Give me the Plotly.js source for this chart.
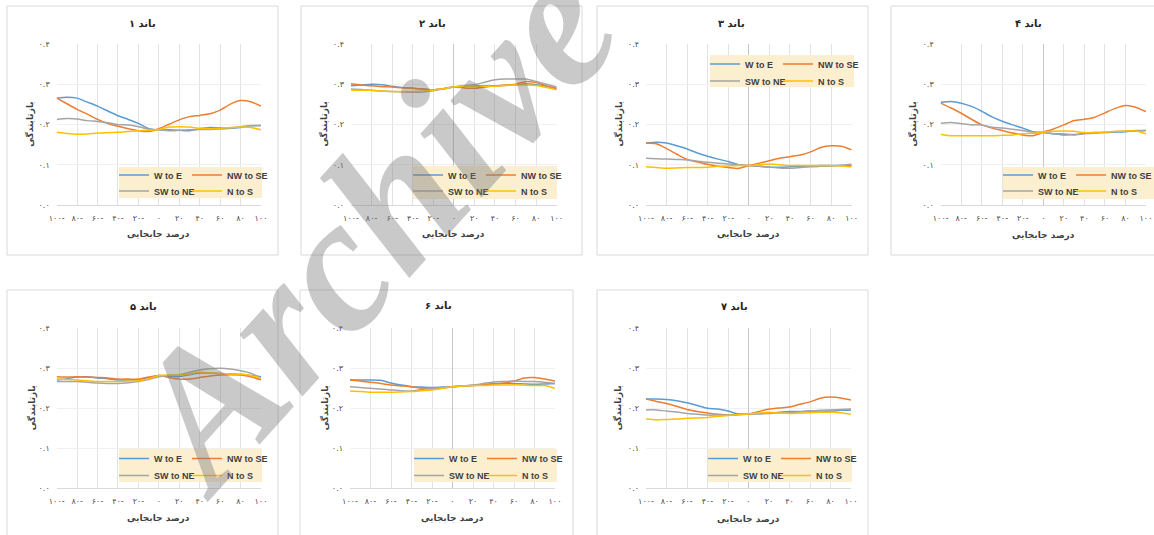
<!DOCTYPE html>
<html><head><meta charset="utf-8">
<script src="https://cdn.plot.ly/plotly-3.0.1.min.js"></script>
<style>html,body{margin:0;padding:0;background:#fff}</style>
</head><body><div id="chart" style="width:1154px;height:535px"></div>
<script>
// ---------- data ----------
const xPercent = [-100,-90,-80,-70,-60,-50,-40,-30,-20,-10,0,10,20,30,40,50,60,70,80,90,100];
const seriesNames = ["W to E","NW to SE","SW to NE","N to S"];
const seriesColors = ["#5B9BD5","#ED7D31","#A5A5A5","#FFC000"];
const bandTitles = ["باند ۱","باند ۲","باند ۳","باند ۴","باند ۵","باند ۶","باند ۷"];
const xAxisTitle = "درصد جابجایی";
const yAxisTitle = "بازتابندگی";
const xTickVals = [-100,-80,-60,-40,-20,0,20,40,60,80,100];
const xTickText = ["۱۰۰-","۸۰-","۶۰-","۴۰-","۲۰-","۰","۲۰","۴۰","۶۰","۸۰","۱۰۰"];
const yTickVals = [0,0.1,0.2,0.3,0.4];
const yTickText = ["۰.۰","۰.۱","۰.۲","۰.۳","۰.۴"];

const band1_WtoE  = [0.266,0.268,0.266,0.256,0.246,0.234,0.222,0.213,0.203,0.190,0.187,0.187,0.186,0.185,0.190,0.193,0.192,0.191,0.193,0.197,0.198];
const band1_NWtoSE= [0.266,0.252,0.238,0.226,0.213,0.203,0.196,0.190,0.185,0.183,0.190,0.201,0.212,0.220,0.223,0.227,0.236,0.251,0.260,0.257,0.246];
const band1_SWtoNE= [0.213,0.215,0.214,0.210,0.208,0.205,0.200,0.199,0.195,0.189,0.187,0.185,0.186,0.187,0.188,0.188,0.189,0.191,0.195,0.198,0.198];
const band1_NtoS  = [0.181,0.178,0.176,0.177,0.179,0.180,0.181,0.183,0.185,0.186,0.188,0.194,0.195,0.194,0.191,0.190,0.191,0.193,0.194,0.193,0.187];

const band2_WtoE  = [0.296,0.298,0.300,0.299,0.295,0.292,0.290,0.288,0.286,0.289,0.293,0.295,0.296,0.296,0.296,0.297,0.299,0.301,0.299,0.295,0.290];
const band2_NWtoSE= [0.301,0.298,0.296,0.294,0.293,0.291,0.290,0.288,0.286,0.289,0.293,0.291,0.290,0.293,0.296,0.298,0.300,0.307,0.304,0.296,0.288];
const band2_SWtoNE= [0.288,0.287,0.285,0.283,0.282,0.281,0.280,0.281,0.284,0.288,0.293,0.297,0.299,0.305,0.311,0.313,0.313,0.313,0.307,0.300,0.293];
const band2_NtoS  = [0.286,0.285,0.285,0.283,0.282,0.282,0.282,0.283,0.286,0.289,0.293,0.295,0.295,0.295,0.295,0.297,0.298,0.298,0.297,0.292,0.286];

const band3_WtoE  = [0.154,0.156,0.154,0.147,0.139,0.129,0.121,0.114,0.108,0.100,0.098,0.096,0.094,0.094,0.095,0.096,0.097,0.098,0.098,0.098,0.098];
const band3_NWtoSE= [0.154,0.152,0.140,0.126,0.113,0.107,0.101,0.096,0.093,0.091,0.098,0.104,0.110,0.116,0.120,0.124,0.132,0.143,0.147,0.146,0.137];
const band3_SWtoNE= [0.116,0.115,0.114,0.113,0.112,0.109,0.106,0.104,0.102,0.100,0.098,0.096,0.094,0.092,0.091,0.093,0.095,0.096,0.097,0.099,0.101];
const band3_NtoS  = [0.095,0.093,0.091,0.092,0.093,0.093,0.094,0.096,0.097,0.098,0.098,0.100,0.102,0.100,0.098,0.098,0.098,0.098,0.098,0.097,0.095];

const band4_WtoE  = [0.255,0.257,0.253,0.245,0.233,0.219,0.208,0.199,0.191,0.182,0.180,0.177,0.174,0.175,0.178,0.180,0.180,0.181,0.182,0.184,0.185];
const band4_NWtoSE= [0.253,0.241,0.228,0.213,0.199,0.191,0.185,0.179,0.174,0.172,0.181,0.189,0.199,0.210,0.213,0.218,0.229,0.240,0.247,0.243,0.232];
const band4_SWtoNE= [0.203,0.205,0.202,0.199,0.199,0.193,0.191,0.188,0.185,0.181,0.180,0.177,0.177,0.174,0.177,0.178,0.181,0.182,0.184,0.185,0.185];
const band4_NtoS  = [0.176,0.172,0.172,0.172,0.172,0.172,0.173,0.174,0.177,0.178,0.181,0.183,0.184,0.183,0.180,0.180,0.181,0.183,0.184,0.184,0.177];

const band5_WtoE  = [0.271,0.274,0.278,0.279,0.276,0.274,0.271,0.271,0.271,0.276,0.282,0.280,0.279,0.284,0.288,0.288,0.287,0.286,0.285,0.282,0.279];
const band5_NWtoSE= [0.279,0.278,0.279,0.278,0.277,0.276,0.273,0.273,0.273,0.278,0.282,0.277,0.273,0.273,0.277,0.281,0.283,0.284,0.283,0.279,0.271];
const band5_SWtoNE= [0.267,0.267,0.267,0.265,0.263,0.262,0.262,0.264,0.267,0.272,0.279,0.282,0.284,0.290,0.296,0.299,0.300,0.298,0.294,0.288,0.275];
const band5_NtoS  = [0.273,0.272,0.271,0.269,0.267,0.267,0.267,0.268,0.269,0.274,0.282,0.283,0.283,0.286,0.290,0.289,0.287,0.286,0.285,0.282,0.275];

const band6_WtoE  = [0.271,0.271,0.271,0.270,0.263,0.258,0.254,0.253,0.252,0.253,0.254,0.256,0.257,0.259,0.262,0.262,0.262,0.261,0.260,0.261,0.262];
const band6_NWtoSE= [0.271,0.268,0.265,0.262,0.258,0.256,0.254,0.250,0.248,0.250,0.254,0.256,0.257,0.259,0.260,0.263,0.268,0.276,0.277,0.273,0.268];
const band6_SWtoNE= [0.254,0.252,0.250,0.248,0.246,0.244,0.243,0.247,0.250,0.252,0.254,0.256,0.258,0.262,0.266,0.267,0.268,0.267,0.267,0.265,0.262];
const band6_NtoS  = [0.243,0.242,0.240,0.240,0.240,0.241,0.242,0.244,0.246,0.250,0.254,0.256,0.257,0.257,0.258,0.258,0.259,0.258,0.257,0.257,0.250];

const band7_WtoE  = [0.223,0.223,0.222,0.219,0.214,0.207,0.200,0.198,0.193,0.186,0.186,0.187,0.188,0.190,0.192,0.192,0.193,0.193,0.193,0.195,0.196];
const band7_NWtoSE= [0.223,0.217,0.212,0.205,0.197,0.192,0.188,0.185,0.183,0.184,0.186,0.192,0.198,0.201,0.203,0.210,0.216,0.225,0.228,0.226,0.221];
const band7_SWtoNE= [0.196,0.196,0.193,0.191,0.187,0.185,0.183,0.183,0.183,0.185,0.186,0.186,0.187,0.188,0.189,0.191,0.193,0.195,0.196,0.197,0.198];
const band7_NtoS  = [0.173,0.171,0.172,0.173,0.175,0.176,0.177,0.180,0.182,0.184,0.186,0.188,0.190,0.188,0.187,0.188,0.189,0.190,0.190,0.189,0.185];

const bands = [
  [band1_WtoE,band1_NWtoSE,band1_SWtoNE,band1_NtoS],
  [band2_WtoE,band2_NWtoSE,band2_SWtoNE,band2_NtoS],
  [band3_WtoE,band3_NWtoSE,band3_SWtoNE,band3_NtoS],
  [band4_WtoE,band4_NWtoSE,band4_SWtoNE,band4_NtoS],
  [band5_WtoE,band5_NWtoSE,band5_SWtoNE,band5_NtoS],
  [band6_WtoE,band6_NWtoSE,band6_SWtoNE,band6_NtoS],
  [band7_WtoE,band7_NWtoSE,band7_SWtoNE,band7_NtoS]
];

// ---------- layout geometry (pixels) ----------
const W = 1154, H = 535;
const px = v => v / W, py = v => 1 - v / H;
const panels = [
  {plot:[56.7,261,44.3,205],   box:[7,278,6,255],    title:[142,24],    ytitle:30,  xtitle:235, legend:[119,256,167,198], rows:[174,190], zeroDark:false},
  {plot:[351,556.7,44,205],    box:[301,582,6,255],  title:[432,24],    ytitle:323, xtitle:235, legend:[413,551,166,199], rows:[174,190], zeroDark:true},
  {plot:[646,851.7,44,205],    box:[597,868,6,255],  title:[731,24],    ytitle:618, xtitle:235, legend:[710,848,55,87],   rows:[63,80],   zeroDark:true},
  {plot:[940.7,1146,44,205],   box:[891,1170,6,255], title:[1028,24],   ytitle:912, xtitle:236, legend:[1003,1148,167,199],rows:[174,190],zeroDark:true},
  {plot:[56.7,261,328.3,488.3],box:[7,278,290,545],  title:[143,306.5], ytitle:32,  xtitle:518, legend:[119,256,449,482], rows:[457.5,474.5], zeroDark:false},
  {plot:[350,555,328.3,488.3], box:[300,573,290,545],title:[438,305.5], ytitle:325, xtitle:518, legend:[414,551,449,482], rows:[457.5,474.5], zeroDark:true},
  {plot:[646,851,328.3,488.3], box:[597,868,290,545],title:[734,306],   ytitle:618, xtitle:519, legend:[708,846,449,482], rows:[457.5,474.5], zeroDark:true}
];

const tickFont = {family:"DejaVu Sans", size:8, color:"#4a4a4a"};
const persianFont = {family:"DejaVu Sans", size:9, color:"#404040", weight:"bold"};
const legendFont = {family:"Liberation Sans", size:9, color:"#404040", weight:"bold"};

const data = [];
const layout = {
  width: W, height: H,
  margin: {l:0, r:0, t:0, b:0, autoexpand:false},
  paper_bgcolor: "#ffffff",
  plot_bgcolor: "#ffffff",
  showlegend: true,
  shapes: [], annotations: []
};

panels.forEach((p, i) => {
  const n = i + 1;
  const xa = "x" + (n === 1 ? "" : n), ya = "y" + (n === 1 ? "" : n);
  const xk = "xaxis" + (n === 1 ? "" : n), yk = "yaxis" + (n === 1 ? "" : n);
  layout[xk] = {
    domain: [px(p.plot[0]), px(p.plot[1])],
    anchor: ya, range: [-100, 100], fixedrange: true, automargin: false,
    tickvals: xTickVals, ticktext: xTickText, tickfont: tickFont, ticks: "",
    ticklabelstandoff: 5,
    showgrid: true, gridcolor: "#e3e3e3", gridwidth: 1,
    zeroline: p.zeroDark, zerolinecolor: "#c6c6c6", zerolinewidth: 1,
    showline: true, linecolor: "#d9d9d9", linewidth: 1, mirror: false
  };
  layout[yk] = {
    domain: [py(p.plot[3]), py(p.plot[2])],
    anchor: xa, range: [0, 0.4], fixedrange: true, automargin: false,
    tickvals: yTickVals, ticktext: yTickText, tickfont: tickFont, ticks: "",
    ticklabelstandoff: 6,
    showgrid: true, gridcolor: "#f0f0f0", zeroline: false, showline: false
  };
  // panel frame
  layout.shapes.push({type:"rect", xref:"paper", yref:"paper", layer:"below",
    x0:px(p.box[0]), x1:px(p.box[1]), y0:py(p.box[3]), y1:py(p.box[2]),
    line:{color:"#d9d9d9", width:1}, fillcolor:"rgba(0,0,0,0)"});
  // legend background
  layout.shapes.push({type:"rect", xref:"paper", yref:"paper", layer:"above",
    x0:px(p.legend[0]), x1:px(p.legend[1] + 6), y0:py(p.legend[3]), y1:py(p.legend[2]),
    line:{width:0}, fillcolor:"#FCEFD0"});
  // two legend rows per panel
  const lgA = "legend" + (2*i + 1 === 1 ? "" : (2*i + 1));
  const lgB = "legend" + (2*i + 2);
  [lgA, lgB].forEach((lg, r) => {
    layout[lg] = {
      x: px(p.legend[0] - 5), y: py(p.rows[r] - 13.5), xanchor: "left", yanchor: "top",
      orientation: "h", bgcolor: "rgba(0,0,0,0)", borderwidth: 0,
      font: legendFont, itemwidth: 30,
      traceorder: "normal", itemclick: false, itemdoubleclick: false
    };
  });
  // traces
  bands[i].forEach((vals, s) => {
    data.push({
      type: "scatter", mode: "lines", x: xPercent, y: vals,
      xaxis: xa, yaxis: ya, name: seriesNames[s],
      line: {color: seriesColors[s], width: 1.5, shape: "spline", smoothing: 0.6},
      legend: (s === 0 || s === 1) ? lgA : lgB,
      legendwidth: (s === 0 || s === 2) ? 28 : 40,
      hoverinfo: "x+y+name"
    });
  });
  // titles
  layout.annotations.push({text: bandTitles[i], xref:"paper", yref:"paper",
    x: px(p.title[0]), y: py(p.title[1]), xanchor:"center", yanchor:"middle", showarrow:false,
    font:{family:"DejaVu Sans", size:10, color:"#262626", weight:"bold"}});
  layout.annotations.push({text: yAxisTitle, xref:"paper", yref:"paper", textangle:-90,
    x: px(p.ytitle), y: py((p.plot[2] + p.plot[3]) / 2), xanchor:"center", yanchor:"middle", showarrow:false,
    font: persianFont});
  layout.annotations.push({text: xAxisTitle, xref:"paper", yref:"paper",
    x: px((p.plot[0] + p.plot[1]) / 2), y: py(p.xtitle), xanchor:"center", yanchor:"middle", showarrow:false,
    font: persianFont});
});

// watermark
layout.annotations.push({text:"Archive", xref:"paper", yref:"paper", x:px(370), y:py(226),
  xanchor:"center", yanchor:"middle", showarrow:false, textangle:-48,
  font:{family:"Liberation Serif", size:192, color:"rgba(120,120,120,0.4)", weight:"bold", style:"italic"}});

Plotly.newPlot("chart", data, layout, {displayModeBar:false, staticPlot:true});
</script></body></html>
